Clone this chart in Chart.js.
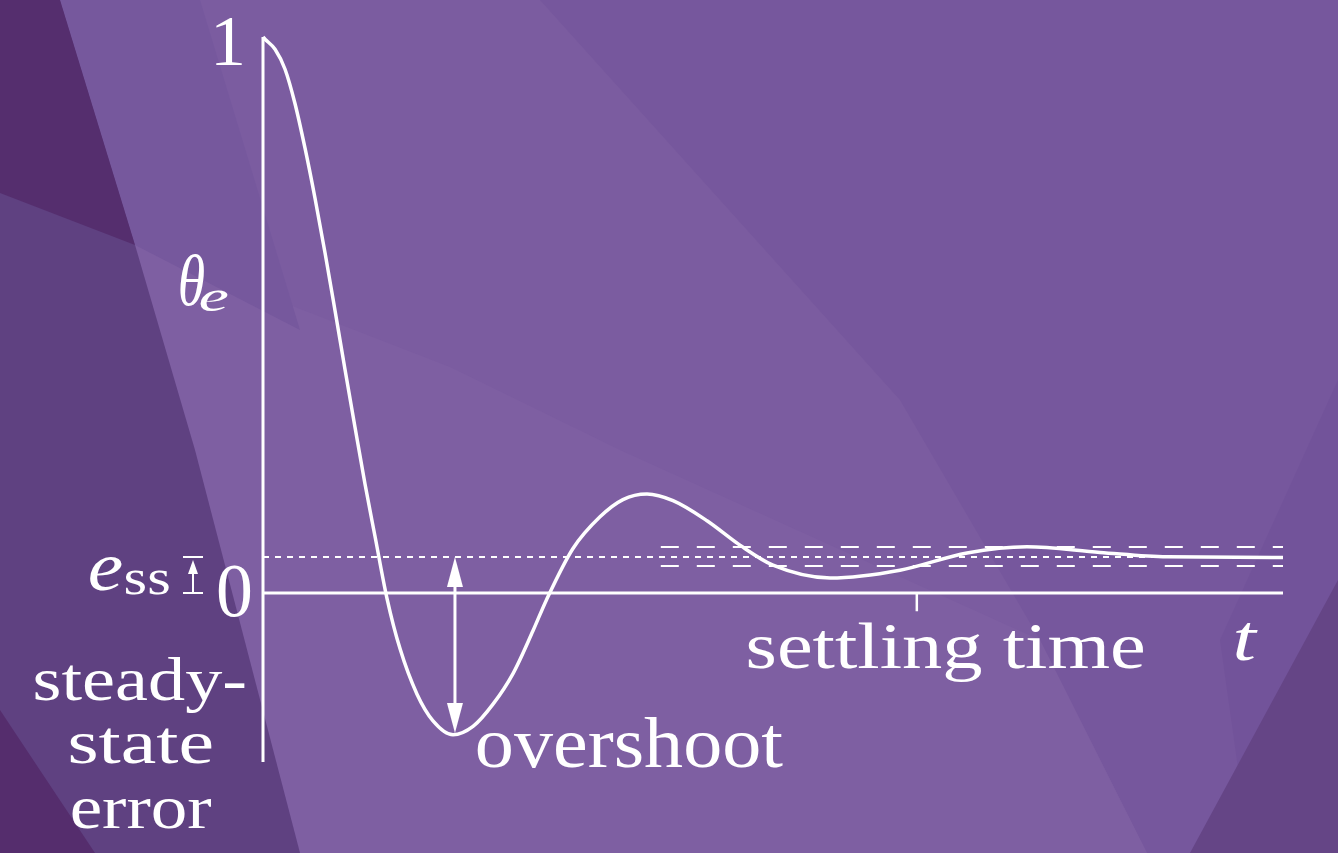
<!DOCTYPE html>
<html>
<head>
<meta charset="utf-8">
<script src="https://cdn.jsdelivr.net/npm/chart.js@4/dist/chart.umd.min.js"></script>
<style>
  html, body { margin: 0; padding: 0; background: #7a5ca0; }
  #wrap { width: 1338px; height: 853px; position: relative; }
</style>
</head>
<body>
<div id="wrap"><canvas id="respChart"></canvas></div>
<script>
// Step response of the error angle: theta_e against t
const tValues = [0, 0.020, 0.118, 0.216, 0.314, 0.412, 0.510, 0.608, 0.706, 0.804, 0.902, 1.000,
  1.098, 1.216, 1.343, 1.510, 1.667, 1.863, 2.059, 2.255, 2.451, 2.647, 2.780, 3.039,
  3.304, 3.529, 3.765, 4.020, 4.353, 4.676, 5.0, 5.559, 6.245, 6.902, 7.490, 8.206, 8.863, 10];
const thetaValues = [1.0, 0.996, 0.978, 0.942, 0.880, 0.800, 0.710, 0.612, 0.508, 0.402, 0.298, 0.196,
  0.102, -0.010, -0.100, -0.182, -0.230, -0.255, -0.240, -0.200, -0.145, -0.068, -0.012, 0.080,
  0.137, 0.168, 0.178, 0.166, 0.130, 0.086, 0.050, 0.027, 0.041, 0.072, 0.083, 0.073, 0.065, 0.064];

const essValue = 0.0647;          // steady-state error level
const bandUpper = 0.0827;         // settling band
const bandLower = 0.0486;
const bandStart = 3.9;
const settlingT = 6.41;
const overshootT = 1.882;
const overshootMin = -0.252;
const tMax = 10;
const yMin = -0.304;
const yMax = 1;

const white = '#ffffff';

function seg(x0, y0, x1, y1) {
  return [{ x: x0, y: y0 }, { x: x1, y: y1 }];
}

const bgPlugin = {
  id: 'bg',
  beforeDraw(chart) {
    const c = chart.ctx;
    const poly = (pts, col) => {
      c.beginPath();
      c.moveTo(pts[0][0], pts[0][1]);
      for (let i = 1; i < pts.length; i++) c.lineTo(pts[i][0], pts[i][1]);
      c.closePath();
      c.fillStyle = col;
      c.fill();
    };
    c.save();
    c.fillStyle = '#7b5ca0';
    c.fillRect(0, 0, chart.width, chart.height);
    poly([[540, 0], [1338, 0], [1338, 853], [1147, 853], [1040, 640], [900, 400]], '#76579d');
    poly([[1338, 380], [1338, 853], [1250, 853], [1220, 640]], '#72539a');
    poly([[135, 245], [450, 367], [620, 450], [1040, 640], [1147, 853], [300, 853]], '#7e5fa2');
    poly([[1338, 580], [1338, 853], [1190, 853]], '#654586');
    poly([[0, 0], [60, 0], [135, 245], [195, 450], [300, 853], [0, 853]], '#5f4181');
    poly([[60, 0], [200, 0], [300, 330], [135, 245]], '#76589d');
    poly([[0, 0], [60, 0], [135, 245], [0, 193]], '#552e6e');
    poly([[0, 710], [0, 853], [95, 853]], '#552d6d');
    c.restore();
  }
};

function drawLabel(c, text, left, baseline, font, width) {
  c.font = font;
  c.textAlign = 'left';
  c.textBaseline = 'alphabetic';
  const m = c.measureText(text);
  const ink = m.actualBoundingBoxLeft + m.actualBoundingBoxRight;
  const sx = width ? width / ink : 1;
  c.save();
  c.translate(left, baseline);
  c.scale(sx, 1);
  c.fillText(text, m.actualBoundingBoxLeft, 0);
  c.restore();
}

function arrowHead(c, x, yTip, dir, len, half) {
  c.beginPath();
  c.moveTo(x, yTip);
  c.lineTo(x - half, yTip + dir * len);
  c.lineTo(x + half, yTip + dir * len);
  c.closePath();
  c.fill();
}

const notePlugin = {
  id: 'notes',
  afterDatasetsDraw(chart) {
    const c = chart.ctx;
    const xs = chart.scales.x, ys = chart.scales.y;
    c.save();
    c.fillStyle = white;
    c.strokeStyle = white;

    // overshoot double arrow
    const ax = xs.getPixelForValue(overshootT);
    const yTop = ys.getPixelForValue(essValue);
    const yBot = ys.getPixelForValue(overshootMin);
    c.lineWidth = 3;
    c.beginPath();
    c.moveTo(ax, yTop + 20);
    c.lineTo(ax, yBot - 20);
    c.stroke();
    arrowHead(c, ax, yTop, 1, 30, 8);
    arrowHead(c, ax, yBot, -1, 30, 8);

    // small e_ss marker
    const ex = 193;
    const y0 = ys.getPixelForValue(0);
    c.lineWidth = 2;
    c.beginPath();
    c.moveTo(ex - 10, yTop); c.lineTo(ex + 10, yTop);
    c.moveTo(ex - 10, y0); c.lineTo(ex + 10, y0);
    c.moveTo(ex, yTop + 10); c.lineTo(ex, y0);
    c.stroke();
    arrowHead(c, ex, yTop + 3, 1, 14, 5);

    // labels
    const serif = '"Liberation Serif", "DejaVu Serif", serif';
    drawLabel(c, '1', 216, 65, '72px ' + serif, 26);
    drawLabel(c, '0', 218, 616, '76px ' + serif, 33);
    drawLabel(c, 'θ', 180, 305, 'italic 72px ' + serif, 24);
    drawLabel(c, 'e', 200, 311, 'italic 44px ' + serif, 28);
    drawLabel(c, 'e', 90, 590, 'italic 70px ' + serif, 32);
    drawLabel(c, 'ss', 126, 594, '50px ' + serif, 43);
    drawLabel(c, 'steady-', 35, 700, '62px ' + serif, 210);
    drawLabel(c, 'state', 70, 763, '62px ' + serif, 142);
    drawLabel(c, 'error', 72, 828, '62px ' + serif, 140);
    drawLabel(c, 'overshoot', 477, 767, '72px ' + serif, 306);
    drawLabel(c, 'settling time', 748, 668, '66px ' + serif, 395);
    drawLabel(c, 't', 1235, 660, 'italic 66px ' + serif, 23);
    c.restore();
  }
};

const curve = tValues.map((t, i) => ({ x: t, y: thetaValues[i] }));

const ctx = document.getElementById('respChart').getContext('2d');
const respChart = new Chart(ctx, {
  type: 'line',
  data: {
    datasets: [
      { label: 'y axis', data: seg(0, yMin, 0, yMax), borderColor: white, borderWidth: 3 },
      { label: 't axis', data: seg(0, 0, tMax, 0), borderColor: white, borderWidth: 3 },
      { label: 'e_ss', data: seg(0, essValue, tMax, essValue), borderColor: white, borderWidth: 2, borderDash: [6, 6] },
      { label: 'band upper', data: seg(bandStart, bandUpper, tMax, bandUpper), borderColor: white, borderWidth: 2, borderDash: [18, 18] },
      { label: 'band lower', data: seg(bandStart, bandLower, tMax, bandLower), borderColor: white, borderWidth: 2, borderDash: [18, 18] },
      { label: 'settling', data: seg(settlingT, 0, settlingT, -0.033), borderColor: white, borderWidth: 2.5 },
      { label: 'theta_e', data: curve, borderColor: white, borderWidth: 3.5, cubicInterpolationMode: 'monotone', borderJoinStyle: 'round' }
    ]
  },
  options: {
    responsive: true,
    maintainAspectRatio: false,
    animation: false,
    layout: { padding: { left: 263, right: 55, top: 37, bottom: 91 } },
    elements: { point: { radius: 0 }, line: { fill: false } },
    datasets: { line: { clip: false } },
    plugins: { legend: { display: false }, tooltip: { enabled: false } },
    scales: {
      x: { type: 'linear', min: 0, max: tMax, display: false },
      y: { min: yMin, max: yMax, display: false }
    }
  },
  plugins: [bgPlugin, notePlugin]
});
</script>
</body>
</html>
